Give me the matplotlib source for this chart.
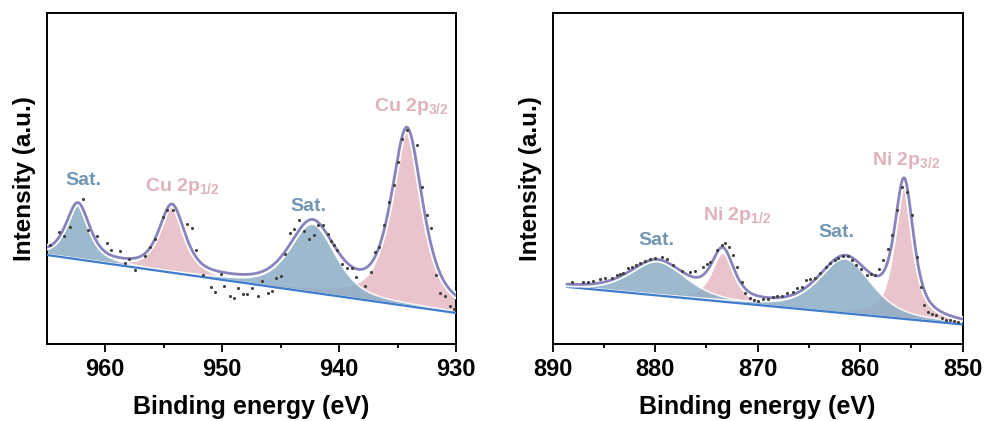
import numpy as np
import matplotlib
matplotlib.use("Agg")
import matplotlib.pyplot as plt
import matplotlib.patheffects as pe

plt.rcParams['font.family'] = ['Liberation Sans', 'DejaVu Sans']
plt.rcParams['font.weight'] = 'bold'
plt.rcParams['mathtext.fontset'] = 'custom'
plt.rcParams['mathtext.default'] = 'bf'
plt.rcParams['mathtext.bf'] = 'Liberation Sans:bold'
plt.rcParams['mathtext.rm'] = 'Liberation Sans:bold'

# ---------------- Cu 2p panel ----------------
cu_xlim = [965, 930]
cu_ticks = [960, 950, 940, 930]
cu_bg_x = [965, 930]
cu_bg_y = [89, 31]
cu_centers = [962.35, 954.3, 942.3, 934.2]
cu_heights = [55, 66, 68, 176]
cu_fwhm = [2.4, 2.6, 4.6, 3.2]
cu_eta = [0.6, 0.6, 0.5, 0.7]
cu_kind = ['sat', 'main', 'sat', 'main']
cu_labels = ['Sat.', r'Cu 2p$_{1/2}$', 'Sat.', r'Cu 2p$_{3/2}$']
cu_label_x = [961.9, 953.4, 942.6, 933.8]
cu_label_y = [164, 158, 137, 238]

cu_raw_x = [964.72, 963.92, 963.52, 963.06, 961.92, 961.52, 960.72, 959.86, 959.49,
            958.71, 958.0, 958.28, 957.42, 956.62, 956.19, 955.79, 955.05, 954.71,
            954.19, 953.05, 952.56, 952.22, 951.61, 950.13, 950.99, 950.64, 949.84,
            949.35, 948.98, 948.61, 948.21, 947.84, 947.49, 946.98, 946.61, 946.12,
            945.78, 945.40, 944.97, 944.60, 944.17, 943.83, 943.40, 942.97, 942.54,
            942.11, 941.83, 941.40, 940.97, 940.68, 940.4, 940.17, 939.74, 939.31,
            938.94, 938.53, 937.82, 937.25, 936.96, 936.59, 936.16, 935.73, 935.33,
            934.96, 934.59, 934.16, 933.33, 932.95, 932.52, 932.15, 931.72, 931.35,
            930.95, 930.49, 930.15]
cu_raw_y = [99.3, 111.7, 108.4, 117.4, 144.5, 114.1, 107.7, 101, 94,
            92.6, 84.9, 80.9, 73.9, 87.9, 97.3, 105, 126.8, 133.5,
            133.5, 120.1, 116.1, 94, 69.2, 70.2, 57.1, 52.1, 57.8,
            48.1, 46.4, 55.8, 50.4, 49.8, 55.5, 48.1, 62.8, 51.1,
            52.8, 65.8, 68.2, 90, 111.4, 115.1, 124.4, 113.4, 105,
            109.4, 119.1, 119.4, 110, 103.3, 99, 94.3, 79.9, 75.5,
            75.5, 67.2, 57.5, 72.2, 91.6, 96.6, 119.4, 141.9, 158.6,
            182, 205.5, 214.5, 198.8, 156.9, 128.5, 116.1, 68.8, 51.4,
            48.1, 38, 34.7]

# ---------------- Ni 2p panel ----------------
ni_xlim = [890, 850]
ni_ticks = [890, 880, 870, 860, 850]
ni_bg_x = [888.6, 850]
ni_bg_y = [57.1, 19.5]
ni_centers = [879.8, 873.4, 861.5, 855.7]
ni_heights = [34, 48, 54, 133]
ni_fwhm = [6.4, 2.6, 6.0, 2.2]
ni_eta = [0.5, 0.6, 0.5, 0.7]
ni_kind = ['sat', 'main', 'sat', 'main']
ni_labels = ['Sat.', r'Ni 2p$_{1/2}$', 'Sat.', r'Ni 2p$_{3/2}$']
ni_label_x = [879.9, 872.0, 862.3, 855.5]
ni_label_y = [103, 128, 111, 184]

ni_raw_x = [888.15, 887.01, 886.52, 886.04, 885.39, 884.90, 884.25, 883.76, 883.43,
            883.11, 882.62, 882.30, 881.87, 881.48, 880.99, 880.51, 880.02, 879.37,
            878.88, 878.23, 877.42, 876.60, 876.11, 875.37, 874.98, 874.65, 874.00,
            873.51, 873.19, 872.77, 872.38, 872.05, 871.56, 871.24, 870.75, 870.36,
            869.94, 869.45, 868.96, 868.54, 868.15, 867.66, 867.11, 866.59, 866.20,
            865.71, 865.29, 864.90, 864.41, 863.92, 863.34, 862.95, 862.46, 862.13,
            861.64, 861.16, 860.83, 860.41, 859.86, 859.37, 858.95, 858.55, 858.13,
            857.74, 857.32, 856.93, 856.44, 855.95, 855.40, 854.91, 854.49, 854.10,
            853.77, 853.35, 852.93, 852.54, 852.05, 851.63, 851.24, 850.85, 850.43]
ni_raw_y = [61.7, 62.0, 62.3, 63.3, 64.7, 65.7, 66.3, 69.0, 70.0,
            71.3, 75.7, 77.3, 79.0, 80.7, 83.0, 85.0, 85.7, 87.3,
            84.7, 79.0, 73.3, 72.3, 73.3, 77.3, 80.0, 82.3, 94.0,
            99.0, 100.7, 97.3, 89.0, 77.3, 62.3, 50.7, 45.7, 44.0,
            43.3, 44.7, 45.0, 47.3, 48.0, 48.0, 51.3, 52.3, 55.7,
            56.7, 64.0, 64.7, 65.7, 70.7, 77.3, 80.7, 84.0, 85.7,
            88.0, 88.0, 84.0, 79.0, 74.7, 69.0, 70.0, 69.0, 74.7,
            84.0, 95.0, 109.0, 134.0, 157.3, 152.3, 128.7, 87.3, 56.7,
            39.0, 32.3, 30.0, 29.0, 25.7, 24.0, 24.0, 23.3, 22.3]

SAT_COLOR = '#8badc6'
MAIN_COLOR = '#e6bac5'
SAT_TEXT = '#7096b4'
MAIN_TEXT = '#e0b2bc'
ENV_COLOR = '#8783bb'
BG_COLOR = '#3f7ccb'


def pvoigt(x, c, h, w, eta):
    d = (x - c) / w
    return h * (eta / (1 + 4 * d ** 2) + (1 - eta) * np.exp(-4 * np.log(2) * d ** 2))


def draw_panel(ax, xlim, ticks, bg_x, bg_y, centers, heights, fwhm, eta, kind,
               labels, lx, ly, raw_x, raw_y):
    x = np.linspace(bg_x[0], bg_x[1], 800)
    bg = np.interp(x, bg_x[::-1], bg_y[::-1])
    comps = [pvoigt(x, c, h, w, e) for c, h, w, e in zip(centers, heights, fwhm, eta)]
    order = [i for i in range(len(kind)) if kind[i] == 'main'] + \
            [i for i in range(len(kind)) if kind[i] == 'sat']
    for i in order:
        col = MAIN_COLOR if kind[i] == 'main' else SAT_COLOR
        ax.fill_between(x, bg + 0.8, bg + 0.8 + comps[i], facecolor=col, alpha=0.85,
                        edgecolor='white', linewidth=1.2, zorder=2)
    ax.plot(bg_x, bg_y, color=BG_COLOR, lw=1.6, zorder=3)
    env = bg + np.sum(comps, axis=0)
    ax.plot(x, env, color=ENV_COLOR, lw=2.0, zorder=4,
            path_effects=[pe.Stroke(linewidth=4.5, foreground='white'), pe.Normal()])
    ax.scatter(raw_x, raw_y, s=5, color='#404040', zorder=5, linewidths=0)
    for t, xx, yy, k in zip(labels, lx, ly, kind):
        ax.text(xx, yy, t, ha='center', va='center', fontsize=14, fontweight='bold',
                color=MAIN_TEXT if k == 'main' else SAT_TEXT, zorder=6)
    ax.set_xlim(*xlim)
    ax.set_ylim(0, 331)
    ax.set_xticks(ticks)
    ax.set_xticks(np.array(ticks[:-1]) + (ticks[1] - ticks[0]) / 2.0, minor=True)
    ax.set_yticks([])
    ax.tick_params(axis='x', which='major', direction='out', length=6, width=1.3,
                   labelsize=17, pad=4)
    ax.tick_params(axis='x', which='minor', direction='out', length=3, width=1.3)
    for lab in ax.get_xticklabels():
        lab.set_fontweight('bold')
    for s in ax.spines.values():
        s.set_linewidth(1.4)
    ax.set_xlabel('Binding energy (eV)', fontsize=18, fontweight='bold', labelpad=10)
    ax.set_ylabel('Intensity (a.u.)', fontsize=17.5, fontweight='bold', labelpad=8)


fig = plt.figure(figsize=(9.88, 4.21), dpi=100)
ax1 = fig.add_axes([0.0474, 0.183, 0.4142, 0.786])
ax2 = fig.add_axes([0.5594, 0.183, 0.4148, 0.786])

draw_panel(ax1, cu_xlim, cu_ticks, cu_bg_x, cu_bg_y, cu_centers, cu_heights, cu_fwhm,
           cu_eta, cu_kind, cu_labels, cu_label_x, cu_label_y, cu_raw_x, cu_raw_y)
draw_panel(ax2, ni_xlim, ni_ticks, ni_bg_x, ni_bg_y, ni_centers, ni_heights, ni_fwhm,
           ni_eta, ni_kind, ni_labels, ni_label_x, ni_label_y, ni_raw_x, ni_raw_y)

fig.savefig('out.png', dpi=100)
